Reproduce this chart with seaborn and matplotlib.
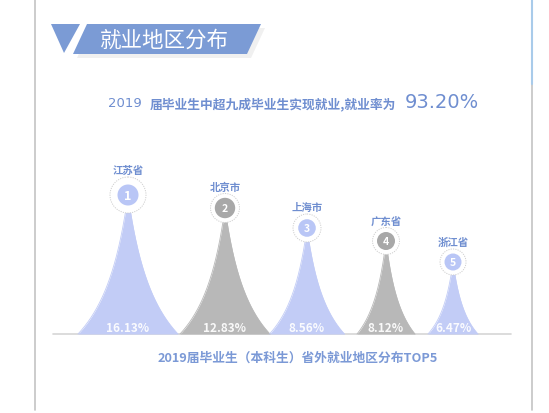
import numpy as np
import pandas as pd
import matplotlib
matplotlib.use("Agg")
import matplotlib.pyplot as plt
from matplotlib.patches import Polygon, Circle
import seaborn as sns

# ---------------- data ----------------
regions = ["江苏省", "北京市", "上海市", "广东省", "浙江省"]
shares = [16.13, 12.83, 8.56, 8.12, 6.47]
ranks = [1, 2, 3, 4, 5]
peak_heights = [139, 126, 106, 93, 72]   # visual peak height

title_text = "就业地区分布"
sub_year = "2019"
sub_text = "届毕业生中超九成毕业生实现就业,就业率为"
sub_rate = "93.20%"
bottom_title = "2019届毕业生（本科生）省外就业地区分布TOP5"

# ---------------- layout / style ----------------
W, H = 549, 414
base_y = 335
centers_x = [128, 225, 307, 386, 453]
half_w = [50, 45, 37.5, 29, 25]
ring_r = [18, 14.5, 14, 13.5, 13]
dot_r = [10.5, 10.2, 8.8, 9, 8.5]
BLUE_PEAK = "#C2CCF6"
GRAY_PEAK = "#B8B8B8"
BLUE_DOT = "#B9C6F6"
GRAY_DOT = "#A8A8A8"
TEXT_BLUE = "#6F8ED0"
BANNER = "#7B9BD5"
peak_colors = [BLUE_PEAK, GRAY_PEAK, BLUE_PEAK, GRAY_PEAK, BLUE_PEAK]
dot_colors = [BLUE_DOT, GRAY_DOT, BLUE_DOT, GRAY_DOT, BLUE_DOT]

sns.set_theme(style="white")
plt.rcParams["font.family"] = ["Noto Sans CJK SC", "DejaVu Sans"]

fig = plt.figure(figsize=(W / 100, H / 100), dpi=100)
fig.patch.set_facecolor("white")
ax = fig.add_axes([0, 0, 1, 1])
ax.set_xlim(0, W)
ax.set_ylim(H, 0)
ax.axis("off")

# frame lines
ax.plot([35, 35], [0, 411], color="#C4C4C4", lw=1.2)
ax.plot([532, 532], [85, 411], color="#C4C4C4", lw=1.2)
ax.plot([532, 532], [0, 85], color="#A9CBEA", lw=1.5)

# banner
shadow = Polygon([(90, 29), (265, 29), (251, 59), (77, 59)], closed=True,
                 facecolor="#000000", alpha=0.06, lw=0)
ax.add_patch(shadow)
ax.add_patch(Polygon([(51, 25), (80, 25), (64, 54)], closed=True, facecolor=BANNER, lw=0))
ax.add_patch(Polygon([(87, 25), (261, 25), (247, 55), (73, 55)], closed=True,
                     facecolor=BANNER, lw=0))
ax.text(164, 41, title_text, color="white", fontsize=15.5, ha="center", va="center")

# subtitle
ax.text(108, 104, sub_year, color=TEXT_BLUE, fontsize=9.5, ha="left", va="center",
        family=["DejaVu Sans"])
ax.text(150, 104, sub_text, color=TEXT_BLUE, fontsize=9.2, ha="left", va="center",
        fontweight="bold")
ax.text(405, 103, sub_rate, color=TEXT_BLUE, fontsize=14, ha="left", va="center",
        family=["DejaVu Sans"])

# peak curves built from the data
t = np.linspace(-1, 1, 401)
rows = []
for i, reg in enumerate(regions):
    hgt = peak_heights[i]
    prof = (1 - np.abs(t)) / (1 + 1.6 * np.abs(t))
    xs = centers_x[i] + half_w[i] * t
    ys = base_y - hgt * prof
    rows.append(pd.DataFrame({"x": xs, "y": ys, "region": reg}))
curves = pd.DataFrame(pd.concat(rows, ignore_index=True))

# baseline
ax.plot([53, 511], [base_y, base_y], color="#D6D6D6", lw=1.2, zorder=1)

for i, reg in enumerate(regions):
    d = curves[curves["region"] == reg]
    ax.fill_between(d["x"], d["y"], base_y, color=peak_colors[i], lw=0, zorder=2)
sns.lineplot(data=curves, x="x", y="y", hue="region", palette=peak_colors,
             sort=False, estimator=None, units="region", lw=0.6, legend=False,
             ax=ax, zorder=3)
ax.set_xlim(0, W)
ax.set_ylim(H, 0)
ax.axis("off")

for i, reg in enumerate(regions):
    cx = centers_x[i]
    cy = base_y - peak_heights[i]
    ax.add_patch(Circle((cx, cy), ring_r[i], facecolor="white", edgecolor="#CFCFCF",
                        lw=0.7, ls=(0, (1.2, 1.2)), zorder=4))
    ax.add_patch(Circle((cx, cy), dot_r[i], facecolor=dot_colors[i], lw=0, zorder=5))
    ax.text(cx, cy + 0.5, str(ranks[i]), color="white", fontsize=9 if i == 0 else 7.5,
            fontweight="bold", ha="center", va="center", zorder=6)
    ax.text(cx, cy - ring_r[i] - 7, reg, color=TEXT_BLUE, fontsize=7.5,
            fontweight="bold", ha="center", va="center", zorder=6)
    ax.text(cx, 329, f"{shares[i]:.2f}%", color="white", alpha=0.92, fontsize=8.5,
            fontweight="bold", ha="center", va="center", zorder=6)

ax.text(298, 358, bottom_title, color="#7B99D6", fontsize=9.2, fontweight="bold",
        ha="center", va="center")

fig.savefig("out.png", dpi=100, facecolor="white")
